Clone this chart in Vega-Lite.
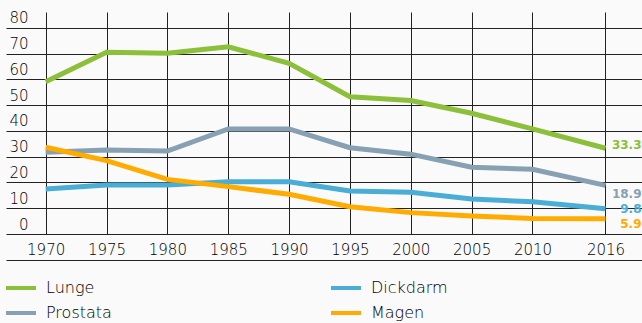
{
  "$schema": "https://vega.github.io/schema/vega-lite/v6.json",
  "width": 636,
  "height": 222,
  "autosize": {"type": "none"},
  "padding": {"left": 6, "top": 12, "right": 0, "bottom": 89},
  "background": "#fafafa",
  "config": {"view": {"stroke": null}, "font": "DejaVu Sans"},
  "data": {
    "values": [
      {"year": 1970, "series": "Lunge", "value": 59.1},
      {"year": 1975, "series": "Lunge", "value": 70.6},
      {"year": 1980, "series": "Lunge", "value": 70.2},
      {"year": 1985, "series": "Lunge", "value": 72.7},
      {"year": 1990, "series": "Lunge", "value": 66.3},
      {"year": 1995, "series": "Lunge", "value": 53.3},
      {"year": 2000, "series": "Lunge", "value": 51.8},
      {"year": 2005, "series": "Lunge", "value": 46.9},
      {"year": 2010, "series": "Lunge", "value": 40.8},
      {"year": 2016, "series": "Lunge", "value": 33.3},
      {"year": 1970, "series": "Prostata", "value": 31.7},
      {"year": 1975, "series": "Prostata", "value": 32.6},
      {"year": 1980, "series": "Prostata", "value": 32.2},
      {"year": 1985, "series": "Prostata", "value": 40.8},
      {"year": 1990, "series": "Prostata", "value": 40.8},
      {"year": 1995, "series": "Prostata", "value": 33.5},
      {"year": 2000, "series": "Prostata", "value": 31.0},
      {"year": 2005, "series": "Prostata", "value": 25.9},
      {"year": 2010, "series": "Prostata", "value": 25.1},
      {"year": 2016, "series": "Prostata", "value": 18.9},
      {"year": 1970, "series": "Dickdarm", "value": 17.5},
      {"year": 1975, "series": "Dickdarm", "value": 19.0},
      {"year": 1980, "series": "Dickdarm", "value": 19.0},
      {"year": 1985, "series": "Dickdarm", "value": 20.3},
      {"year": 1990, "series": "Dickdarm", "value": 20.3},
      {"year": 1995, "series": "Dickdarm", "value": 16.7},
      {"year": 2000, "series": "Dickdarm", "value": 16.2},
      {"year": 2005, "series": "Dickdarm", "value": 13.6},
      {"year": 2010, "series": "Dickdarm", "value": 12.5},
      {"year": 2016, "series": "Dickdarm", "value": 9.8},
      {"year": 1970, "series": "Magen", "value": 33.7},
      {"year": 1975, "series": "Magen", "value": 28.5},
      {"year": 1980, "series": "Magen", "value": 21.2},
      {"year": 1985, "series": "Magen", "value": 18.4},
      {"year": 1990, "series": "Magen", "value": 15.4},
      {"year": 1995, "series": "Magen", "value": 10.6},
      {"year": 2000, "series": "Magen", "value": 8.3},
      {"year": 2005, "series": "Magen", "value": 7.0},
      {"year": 2010, "series": "Magen", "value": 6.0},
      {"year": 2016, "series": "Magen", "value": 5.9}
    ]
  },
  "resolve": {"axis": {"x": "independent"}},
  "layer": [
    {
      "mark": {"type": "line", "strokeWidth": 5},
      "encoding": {
        "x": {
          "field": "year", "type": "quantitative",
          "scale": {"domain": [1966.74, 2019.0], "nice": false, "zero": false},
          "axis": {
            "values": [1970, 1975, 1980, 1985, 1990, 1995, 2000, 2005, 2010, 2016],
            "format": "d", "title": null, "grid": true, "gridColor": "#222", "gridWidth": 1,
            "domain": false, "ticks": false, "tickSize": 0, "labelPadding": 8,
            "labelFontSize": 15, "labelColor": "#000", "labelFont": "DejaVu Sans", "labelFontWeight": 300,
            "labelFlush": false, "labelBaseline": "top", "labelOverlap": false
          }
        },
        "y": {
          "field": "value", "type": "quantitative",
          "scale": {"domain": [0, 86.2], "nice": false},
          "axis": {
            "values": [0, 10, 20, 30, 40, 50, 60, 70, 80],
            "title": null, "grid": true, "gridColor": "#222", "gridWidth": 1,
            "domain": false, "ticks": false, "tickSize": 0,
            "labelAlign": "right", "labelPadding": -22, "labelBaseline": "alphabetic",
            "labelOffset": -5, "labelFontSize": 15, "labelColor": "#000", "labelFont": "DejaVu Sans", "labelFontWeight": 300,
            "labelOverlap": false
          }
        },
        "color": {
          "field": "series", "type": "nominal",
          "scale": {
            "domain": ["Lunge", "Prostata", "Dickdarm", "Magen"],
            "range": ["#8CBF3A", "#87A0B2", "#4AADD5", "#FFAB00"]
          },
          "legend": {
            "orient": "none", "legendX": -2, "legendY": 267, "columns": 2,
            "columnPadding": 217, "rowPadding": 7, "clipHeight": 18,
            "symbolType": "stroke", "symbolStrokeWidth": 4, "symbolSize": 900,
            "labelFontSize": 16, "labelOffset": 8, "labelColor": "#000", "labelFontWeight": 300,
            "labelFont": "DejaVu Sans", "title": null, "padding": 0
          }
        }
      }
    },
    {
      "transform": [{"filter": "datum.year == 2016 && datum.series == 'Lunge'"}],
      "mark": {"type": "text", "align": "right", "baseline": "middle", "dx": 36, "dy": -3.5, "fontWeight": "bold", "fontSize": 12, "font": "DejaVu Sans", "color": "#8CBF3A"},
      "encoding": {
        "x": {"field": "year", "type": "quantitative",
          "axis": {"orient": "bottom", "offset": 26, "domain": true, "domainColor": "#222", "domainWidth": 1, "labels": false, "ticks": false, "grid": false, "title": null}},
        "y": {"field": "value", "type": "quantitative",
          "axis": {
            "values": [0, 10, 20, 30, 40, 50, 60, 70, 80],
            "title": null, "grid": true, "gridColor": "#222", "gridWidth": 1,
            "domain": false, "ticks": false, "tickSize": 0,
            "labelAlign": "right", "labelPadding": -22, "labelBaseline": "alphabetic",
            "labelOffset": -5, "labelFontSize": 15, "labelColor": "#000", "labelFont": "DejaVu Sans", "labelFontWeight": 300,
            "labelOverlap": false
          }},
        "text": {"field": "value", "type": "quantitative", "format": ".1f"}
      }
    },
    {
      "transform": [{"filter": "datum.year == 2016 && datum.series == 'Prostata'"}],
      "mark": {"type": "text", "align": "right", "baseline": "middle", "dx": 36, "dy": 8.5, "fontWeight": "bold", "fontSize": 12, "font": "DejaVu Sans", "color": "#87A0B2"},
      "encoding": {
        "x": {"field": "year", "type": "quantitative", "axis": null},
        "y": {"field": "value", "type": "quantitative",
          "axis": {
            "values": [0, 10, 20, 30, 40, 50, 60, 70, 80],
            "title": null, "grid": true, "gridColor": "#222", "gridWidth": 1,
            "domain": false, "ticks": false, "tickSize": 0,
            "labelAlign": "right", "labelPadding": -22, "labelBaseline": "alphabetic",
            "labelOffset": -5, "labelFontSize": 15, "labelColor": "#000", "labelFont": "DejaVu Sans", "labelFontWeight": 300,
            "labelOverlap": false
          }},
        "text": {"field": "value", "type": "quantitative", "format": ".1f"}
      }
    },
    {
      "transform": [{"filter": "datum.year == 2016 && datum.series == 'Dickdarm'"}],
      "mark": {"type": "text", "align": "right", "baseline": "middle", "dx": 36, "dy": 0, "fontWeight": "bold", "fontSize": 12, "font": "DejaVu Sans", "color": "#4AADD5"},
      "encoding": {
        "x": {"field": "year", "type": "quantitative", "axis": null},
        "y": {"field": "value", "type": "quantitative",
          "axis": {
            "values": [0, 10, 20, 30, 40, 50, 60, 70, 80],
            "title": null, "grid": true, "gridColor": "#222", "gridWidth": 1,
            "domain": false, "ticks": false, "tickSize": 0,
            "labelAlign": "right", "labelPadding": -22, "labelBaseline": "alphabetic",
            "labelOffset": -5, "labelFontSize": 15, "labelColor": "#000", "labelFont": "DejaVu Sans", "labelFontWeight": 300,
            "labelOverlap": false
          }},
        "text": {"field": "value", "type": "quantitative", "format": ".1f"}
      }
    },
    {
      "transform": [{"filter": "datum.year == 2016 && datum.series == 'Magen'"}],
      "mark": {"type": "text", "align": "right", "baseline": "middle", "dx": 36, "dy": 5, "fontWeight": "bold", "fontSize": 12, "font": "DejaVu Sans", "color": "#FFAB00"},
      "encoding": {
        "x": {"field": "year", "type": "quantitative", "axis": null},
        "y": {"field": "value", "type": "quantitative",
          "axis": {
            "values": [0, 10, 20, 30, 40, 50, 60, 70, 80],
            "title": null, "grid": true, "gridColor": "#222", "gridWidth": 1,
            "domain": false, "ticks": false, "tickSize": 0,
            "labelAlign": "right", "labelPadding": -22, "labelBaseline": "alphabetic",
            "labelOffset": -5, "labelFontSize": 15, "labelColor": "#000", "labelFont": "DejaVu Sans", "labelFontWeight": 300,
            "labelOverlap": false
          }},
        "text": {"field": "value", "type": "quantitative", "format": ".1f"}
      }
    }
  ]
}
